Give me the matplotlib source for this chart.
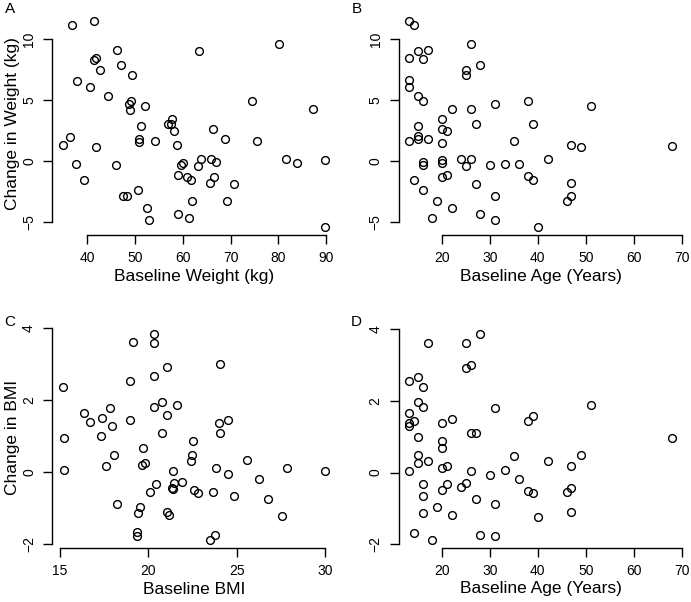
import matplotlib
matplotlib.use("Agg")
import matplotlib.pyplot as plt

plt.rcParams["font.family"] = ["Liberation Sans", "DejaVu Sans"]

# Panel A: baseline weight vs change in weight
wt_base = [36.85, 41.4, 80.2, 46.3, 63.5, 41.4, 41.8, 47.1, 42.7, 49.3,
           37.8, 40.5, 44.4, 49.1, 48.7, 48.95, 52.0, 74.6, 87.3, 57.7,
           56.8, 57.5, 51.2, 58.25, 66.3, 36.3, 50.8, 50.8, 54.1, 68.9,
           75.6, 34.8, 58.7, 41.9, 37.55, 46.1, 59.7, 60.1, 63.1, 63.8,
           65.9, 67.0, 81.7, 83.9, 89.8, 39.4, 58.9, 60.8, 61.7, 65.7,
           66.6, 70.8, 50.7, 47.5, 48.25, 61.9, 69.2, 52.6, 59.0, 61.4,
           52.9, 89.9]
wt_change_a = [11.16, 11.46, 9.61, 9.12, 9.06, 8.30, 8.41, 7.87, 7.43, 7.08,
               6.59, 6.04, 5.31, 4.90, 4.68, 4.22, 4.49, 4.95, 4.25, 3.48,
               3.08, 3.05, 2.89, 2.50, 2.61, 2.01, 1.82, 1.55, 1.69, 1.85,
               1.63, 1.31, 1.36, 1.14, -0.19, -0.30, -0.27, -0.14, -0.41, 0.16,
               0.19, -0.08, 0.19, -0.16, 0.08, -1.55, -1.12, -1.31, -1.52, -1.77,
               -1.25, -1.88, -2.37, -2.86, -2.86, -3.21, -3.29, -3.84, -4.30, -4.63,
               -4.82, -5.36]

# Panel B: baseline age vs change in weight
age_base_b = [13.1, 14.1, 26.0, 15.0, 17.1, 13.1, 16.0, 28.0, 25.0, 25.0,
              13.1, 13.1, 15.0, 16.0, 37.9, 31.0, 51.0, 22.0, 26.0, 20.0,
              27.05, 39.0, 15.0, 20.0, 21.1, 15.0, 15.0, 17.1, 13.1, 35.0,
              20.0, 47.0, 49.0, 68.0, 20.0, 20.0, 16.0, 16.0, 24.0, 26.0,
              25.0, 30.0, 33.1, 36.0, 42.1, 14.1, 20.0, 21.1, 27.05, 38.0,
              39.0, 47.0, 16.0, 19.0, 31.0, 46.0, 47.0, 22.0, 28.0, 18.0,
              31.0, 40.0]
wt_change_b = [11.46, 11.19, 9.61, 9.06, 9.09, 8.44, 8.33, 7.87, 7.48, 7.10,
               6.61, 6.10, 5.31, 4.90, 4.95, 4.71, 4.52, 4.27, 4.27, 3.48,
               3.08, 3.05, 2.89, 2.61, 2.48, 2.04, 1.82, 1.85, 1.63, 1.69,
               1.52, 1.36, 1.17, 1.28, 0.14, -0.16, -0.05, -0.33, 0.16, 0.19,
               -0.38, -0.30, -0.19, -0.19, 0.16, -1.55, -1.31, -1.09, -1.88, -1.22,
               -1.52, -1.77, -2.37, -3.21, -2.86, -3.29, -2.86, -3.84, -4.30, -4.63,
               -4.82, -5.36]

# Panel C: baseline BMI vs change in BMI
bmi_base = [20.31, 19.12, 20.29, 24.03, 21.04, 20.33, 18.95, 15.15, 20.74, 21.64,
            20.29, 17.84, 16.36, 17.37, 21.06, 18.95, 16.71, 17.94, 23.98, 24.52,
            20.78, 24.02, 17.33, 15.24, 22.51, 19.67, 18.03, 22.47, 22.42, 25.54,
            19.78, 19.63, 17.62, 23.81, 27.80, 15.23, 21.40, 30.0, 24.52, 26.22,
            20.44, 21.42, 21.91, 21.31, 21.38, 20.10, 22.55, 22.81, 23.64, 24.83,
            26.73, 18.24, 19.55, 19.39, 21.06, 21.15, 27.54, 19.33, 19.37, 23.75,
            23.47]
bmi_change_c = [3.84, 3.61, 3.59, 3.00, 2.92, 2.67, 2.54, 2.38, 1.96, 1.87,
                1.82, 1.79, 1.66, 1.50, 1.58, 1.44, 1.39, 1.29, 1.37, 1.44,
                1.09, 1.09, 1.00, 0.95, 0.88, 0.67, 0.49, 0.47, 0.32, 0.33,
                0.27, 0.19, 0.17, 0.13, 0.12, 0.06, 0.04, 0.04, -0.06, -0.18,
                -0.33, -0.31, -0.28, -0.43, -0.46, -0.54, -0.49, -0.57, -0.54, -0.65,
                -0.74, -0.88, -0.96, -1.14, -1.10, -1.19, -1.23, -1.67, -1.77, -1.74,
                -1.88]

# Panel D: baseline age vs change in BMI
age_base_d = [28.0, 17.1, 25.0, 26.0, 25.0, 15.0, 13.1, 16.0, 15.0, 51.0,
              16.0, 31.0, 13.1, 39.0, 22.0, 37.9, 14.1, 13.1, 13.1, 20.0,
              26.0, 27.05, 15.0, 68.0, 20.0, 20.0, 15.0, 35.0, 49.0, 42.1,
              17.1, 15.0, 20.0, 21.1, 47.0, 13.1, 26.0, 33.1, 30.0, 36.0,
              16.0, 21.1, 25.0, 24.0, 20.0, 47.0, 37.9, 39.0, 46.0, 16.0,
              27.05, 31.0, 19.0, 16.0, 47.0, 22.0, 40.0, 14.1, 28.0, 31.0,
              18.0]
bmi_change_d = [3.85, 3.61, 3.60, 3.00, 2.91, 2.67, 2.55, 2.38, 1.96, 1.87,
                1.82, 1.79, 1.65, 1.58, 1.50, 1.44, 1.44, 1.38, 1.29, 1.37,
                1.10, 1.09, 1.00, 0.95, 0.88, 0.67, 0.48, 0.47, 0.48, 0.33,
                0.32, 0.27, 0.13, 0.18, 0.19, 0.05, 0.05, 0.06, -0.06, -0.18,
                -0.31, -0.32, -0.28, -0.39, -0.49, -0.44, -0.52, -0.57, -0.53, -0.65,
                -0.74, -0.88, -0.96, -1.13, -1.11, -1.17, -1.23, -1.67, -1.73, -1.77,
                -1.87]

W, H = 691, 602
fig = plt.figure(figsize=(W / 100, H / 100), dpi=100)


def r_lim(v):
    # R's default 4% axis expansion
    lo, hi = min(v), max(v)
    d = (hi - lo) * 0.04
    return lo - d, hi + d


def panel(x0, y0, x, y, xticks, yticks, xlabel, ylabel, letter):
    # x0, y0: pixel position of left spine / bottom spine
    ax = fig.add_axes([x0 / W, 1 - y0 / H, 284 / W, 222 / H])
    ax.plot(x, y, "o", mfc="none", mec="black", ms=5.6, mew=1.0)
    ax.set_xlim(r_lim(x))
    ax.set_ylim(r_lim(y))
    ax.set_xticks(xticks)
    ax.set_yticks(yticks)
    ax.set_yticklabels([str(t).replace("-", "\u2212") for t in yticks],
                       rotation=90, va="center")
    for s in ("top", "right"):
        ax.spines[s].set_visible(False)
    ax.spines["bottom"].set_bounds(xticks[0], xticks[-1])
    ax.spines["left"].set_bounds(yticks[0], yticks[-1])
    for s in ("bottom", "left"):
        ax.spines[s].set_linewidth(1.0)
    ax.tick_params(length=6.5, width=1.0, pad=5, labelsize=10)
    ax.set_xlabel(xlabel, fontsize=12.5)
    ax.xaxis.set_label_coords(0.5, -41 / 222)
    ax.xaxis.label.set_va("center")
    if ylabel:
        ax.set_ylabel(ylabel, fontsize=12.5)
        ax.yaxis.set_label_coords(-39 / 284, 0.5)
        ax.yaxis.label.set_va("center")
    fig.text((x0 - 42) / W, 1 - (y0 - 226) / H, letter, fontsize=11,
             ha="center", va="center")
    return ax


panel(52, 235, wt_base, wt_change_a, [40, 50, 60, 70, 80, 90], [-5, 0, 5, 10],
      "Baseline Weight (kg)", "Change in Weight (kg)", "A")
panel(398.5, 235, age_base_b, wt_change_b, [20, 30, 40, 50, 60, 70], [-5, 0, 5, 10],
      "Baseline Age (Years)", None, "B")
panel(52, 548, bmi_base, bmi_change_c, [15, 20, 25, 30], [-2, 0, 2, 4],
      "Baseline BMI", "Change in BMI", "C")
panel(398.5, 548, age_base_d, bmi_change_d, [20, 30, 40, 50, 60, 70], [-2, 0, 2, 4],
      "Baseline Age (Years)", None, "D")

fig.savefig("out.png", dpi=100)
